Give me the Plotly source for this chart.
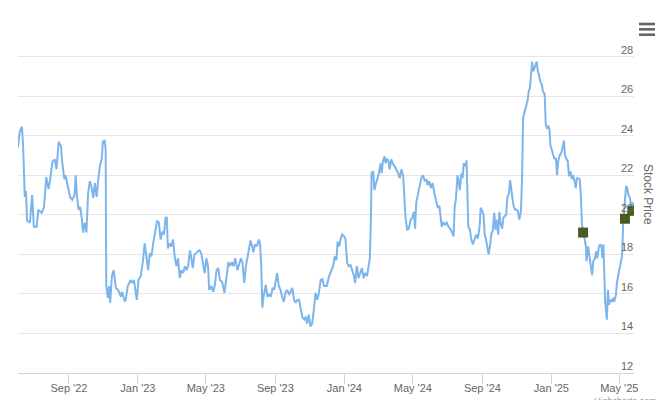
import plotly.graph_objects as go

# ---- data -------------------------------------------------------------
dates = [
    "2022-06-03","2022-06-06","2022-06-10","2022-06-12","2022-06-15","2022-06-17","2022-06-19","2022-06-24","2022-06-28","2022-07-01",
    "2022-07-06","2022-07-09","2022-07-15","2022-07-19","2022-07-23","2022-07-27","2022-07-30","2022-08-03","2022-08-07","2022-08-10",
    "2022-08-14","2022-08-18","2022-08-20","2022-08-24","2022-08-26","2022-08-30","2022-09-03","2022-09-07","2022-09-11","2022-09-13",
    "2022-09-15","2022-09-18","2022-09-21","2022-09-24","2022-09-26","2022-09-29","2022-10-02","2022-10-05","2022-10-08","2022-10-11",
    "2022-10-14","2022-10-17","2022-10-20","2022-10-23","2022-10-26","2022-10-29","2022-10-31","2022-11-03","2022-11-05","2022-11-06",
    "2022-11-09","2022-11-11","2022-11-13","2022-11-16","2022-11-19","2022-11-23","2022-11-27","2022-12-02","2022-12-04","2022-12-09",
    "2022-12-11","2022-12-14","2022-12-19","2022-12-22","2022-12-25","2022-12-27","2022-12-30","2023-01-02","2023-01-06","2023-01-10",
    "2023-01-13","2023-01-16","2023-01-19","2023-01-22","2023-01-25","2023-01-28","2023-01-31","2023-02-04","2023-02-07","2023-02-10",
    "2023-02-13","2023-02-16","2023-02-19","2023-02-21","2023-02-23","2023-02-26","2023-03-01","2023-03-04","2023-03-07","2023-03-10",
    "2023-03-13","2023-03-16","2023-03-19","2023-03-22","2023-03-25","2023-03-28","2023-03-31","2023-04-03","2023-04-05","2023-04-08",
    "2023-04-11","2023-04-14","2023-04-17","2023-04-20","2023-04-23","2023-04-26","2023-04-29","2023-05-02","2023-05-05","2023-05-07",
    "2023-05-11","2023-05-14","2023-05-17","2023-05-20","2023-05-23","2023-05-26","2023-05-30","2023-06-03","2023-06-07","2023-06-10",
    "2023-06-13","2023-06-16","2023-06-19","2023-06-22","2023-06-26","2023-06-29","2023-07-02","2023-07-05","2023-07-08","2023-07-11",
    "2023-07-13","2023-07-16","2023-07-19","2023-07-22","2023-07-24","2023-07-27","2023-07-30","2023-08-03","2023-08-05","2023-08-07",
    "2023-08-09","2023-08-11","2023-08-15","2023-08-18","2023-08-21","2023-08-24","2023-08-27","2023-08-30","2023-09-02","2023-09-04",
    "2023-09-07","2023-09-10","2023-09-13","2023-09-16","2023-09-19","2023-09-22","2023-09-25","2023-09-28","2023-10-01","2023-10-04",
    "2023-10-07","2023-10-10","2023-10-13","2023-10-16","2023-10-19","2023-10-22","2023-10-25","2023-10-27","2023-10-30","2023-11-02",
    "2023-11-05","2023-11-08","2023-11-11","2023-11-14","2023-11-17","2023-11-20","2023-11-23","2023-11-26","2023-12-01","2023-12-05",
    "2023-12-09","2023-12-12","2023-12-15","2023-12-18","2023-12-20","2023-12-23","2023-12-25","2023-12-28","2024-01-01","2024-01-03",
    "2024-01-06","2024-01-09","2024-01-12","2024-01-15","2024-01-18","2024-01-20","2024-01-23","2024-01-26","2024-01-29","2024-02-01",
    "2024-02-04","2024-02-07","2024-02-10","2024-02-13","2024-02-15","2024-02-17","2024-02-18","2024-02-21","2024-02-23","2024-02-25",
    "2024-02-28","2024-03-02","2024-03-05","2024-03-07","2024-03-09","2024-03-12","2024-03-14","2024-03-16","2024-03-19","2024-03-21",
    "2024-03-24","2024-03-27","2024-03-30","2024-04-02","2024-04-05","2024-04-08","2024-04-11","2024-04-14","2024-04-16","2024-04-18",
    "2024-04-21","2024-04-24","2024-04-27","2024-04-30","2024-05-03","2024-05-05","2024-05-07","2024-05-10","2024-05-13","2024-05-16",
    "2024-05-19","2024-05-22","2024-05-25","2024-05-27","2024-05-30","2024-06-02","2024-06-05","2024-06-08","2024-06-11","2024-06-14",
    "2024-06-17","2024-06-19","2024-06-21","2024-06-24","2024-06-27","2024-06-30","2024-07-03","2024-07-06","2024-07-09","2024-07-12",
    "2024-07-14","2024-07-16","2024-07-19","2024-07-21","2024-07-23","2024-07-26","2024-07-28","2024-07-30","2024-08-02","2024-08-04",
    "2024-08-05","2024-08-07","2024-08-10","2024-08-12","2024-08-15","2024-08-18","2024-08-21","2024-08-24","2024-08-27","2024-08-29",
    "2024-08-31","2024-09-03","2024-09-05","2024-09-07","2024-09-10","2024-09-12","2024-09-15","2024-09-17","2024-09-19","2024-09-22",
    "2024-09-24","2024-09-26","2024-09-29","2024-10-01","2024-10-03","2024-10-06","2024-10-08","2024-10-10","2024-10-13","2024-10-15",
    "2024-10-18","2024-10-20","2024-10-22","2024-10-25","2024-10-27","2024-10-29","2024-11-01","2024-11-03","2024-11-05","2024-11-08",
    "2024-11-10","2024-11-12","2024-11-15","2024-11-18","2024-11-20","2024-11-22","2024-11-24","2024-11-26","2024-11-28","2024-11-30",
    "2024-12-02","2024-12-04","2024-12-06","2024-12-08","2024-12-10","2024-12-12","2024-12-15","2024-12-17","2024-12-20","2024-12-22",
    "2024-12-24","2024-12-27","2024-12-29","2024-12-30","2025-01-02","2025-01-04","2025-01-06","2025-01-09","2025-01-11","2025-01-13",
    "2025-01-16","2025-01-18","2025-01-20","2025-01-23","2025-01-25","2025-01-27","2025-01-30","2025-02-01","2025-02-04","2025-02-06",
    "2025-02-08","2025-02-11","2025-02-13","2025-02-15","2025-02-18","2025-02-20","2025-02-22","2025-02-24","2025-02-26","2025-02-28",
    "2025-03-03","2025-03-04","2025-03-07","2025-03-09","2025-03-11","2025-03-14","2025-03-16","2025-03-19","2025-03-21","2025-03-23",
    "2025-03-26","2025-03-29","2025-03-31","2025-04-01","2025-04-03","2025-04-05","2025-04-06","2025-04-09","2025-04-11","2025-04-13",
    "2025-04-15","2025-04-18","2025-04-20","2025-04-22","2025-04-25","2025-04-27","2025-04-29","2025-05-02","2025-05-04","2025-05-06",
    "2025-05-08","2025-05-10","2025-05-13","2025-05-15","2025-05-17","2025-05-20","2025-05-22","2025-05-24","2025-05-26",
]

prices = [
    23.4, 24.2, 24.45, 23.5, 20.9, 21.2, 19.7, 19.6, 21.0, 19.4,
    19.4, 20.25, 20.1, 20.4, 21.9, 21.3, 21.8, 22.7, 22.8, 22.3,
    23.7, 23.45, 22.7, 21.8, 22.0, 21.4, 20.9, 20.75, 21.0, 22.0,
    21.0, 20.25, 20.4, 19.75, 19.1, 19.6, 19.1, 21.1, 21.7, 21.4,
    20.85, 21.6, 20.9, 21.8, 22.5, 22.8, 23.7, 23.75, 23.3, 16.4,
    15.8, 16.4, 15.55, 16.9, 17.2, 16.3, 16.2, 15.85, 16.1, 15.6,
    15.8, 16.4, 16.7, 16.55, 16.7, 16.3, 15.7, 16.7, 16.9, 17.7,
    18.55, 17.9, 17.2, 18.05, 17.9, 18.55, 19.15, 19.7, 19.6, 18.75,
    19.15, 19.0, 19.85, 19.85, 18.3, 18.55, 18.4, 18.75, 17.9, 17.4,
    17.8, 16.8, 17.2, 17.05, 17.4, 17.2, 17.45, 18.2, 17.9, 17.3,
    18.0, 18.05, 18.15, 18.2, 18.05, 17.55, 17.05, 17.8, 17.4, 16.2,
    16.4, 16.1, 16.45, 17.2, 17.3, 16.7, 16.6, 16.05, 17.05, 17.6,
    17.4, 17.6, 17.4, 17.8, 17.2, 17.45, 17.8, 17.55, 16.55, 17.4,
    17.7, 18.2, 18.7, 18.4, 18.1, 18.5, 18.4, 18.75, 18.5, 17.4,
    15.3, 15.85, 16.45, 15.85, 16.0, 15.85, 16.3, 16.2, 16.7, 17.05,
    16.4, 16.2, 15.85, 15.6, 16.1, 16.2, 15.95, 16.1, 16.3, 15.7,
    15.55, 15.7, 15.7, 15.2, 14.8, 14.7, 14.85, 14.5, 14.95, 14.35,
    14.5, 15.2, 16.05, 15.7, 16.05, 16.7, 16.75, 16.4, 16.4, 16.9,
    17.15, 17.4, 17.9, 17.7, 18.65, 18.4, 18.75, 19.0, 18.9, 18.75,
    17.55, 17.4, 17.45, 17.15, 16.9, 16.55, 17.4, 16.8, 17.05, 17.3,
    16.8, 17.05, 16.9, 17.45, 17.8, 19.9, 22.1, 22.2, 21.25, 21.5,
    21.75, 22.1, 22.6, 22.1, 22.7, 22.95, 22.6, 22.85, 22.7, 22.3,
    22.8, 22.55, 22.45, 22.3, 22.1, 21.85, 22.3, 21.95, 20.95, 19.9,
    19.25, 19.3, 19.75, 19.85, 20.15, 19.3, 20.6, 20.95, 21.45, 21.85,
    22.0, 21.7, 21.8, 21.5, 21.7, 21.35, 21.6, 21.1, 20.75, 20.35,
    20.45, 19.85, 19.4, 19.6, 19.5, 19.6, 19.4, 19.3, 19.15, 18.9,
    20.4, 20.75, 22.0, 21.75, 21.25, 22.1, 21.85, 22.6, 22.45, 22.75,
    21.25, 19.4, 19.25, 18.8, 18.5, 18.75, 19.0, 18.8, 19.4, 20.35,
    20.25, 20.0, 19.0, 18.8, 18.2, 18.0, 18.55, 19.05, 19.15, 20.1,
    19.25, 19.75, 19.0, 20.15, 19.6, 19.3, 19.85, 19.9, 20.0, 20.85,
    21.1, 21.75, 21.25, 20.65, 20.35, 20.25, 20.25, 20.15, 19.75, 20.15,
    21.75, 24.9, 25.25, 25.55, 25.8, 26.25, 26.4, 27.1, 27.75, 27.25,
    27.4, 27.65, 27.75, 27.25, 27.1, 26.75, 26.6, 26.25, 26.1, 24.55,
    24.4, 24.5, 24.2, 23.55, 23.2, 23.05, 22.85, 22.85, 22.0, 22.7,
    23.05, 23.1, 23.3, 23.75, 23.05, 22.85, 22.7, 21.95, 22.2, 21.8,
    22.0, 21.7, 21.35, 21.85, 21.85, 21.8, 21.0, 19.5, 19.15, 18.9,
    18.4, 17.65, 18.4, 17.95, 17.45, 16.95, 17.65, 17.8, 18.15, 17.8,
    18.4, 18.5, 18.3, 17.8, 18.5, 17.15, 15.6, 14.7, 16.2, 15.45,
    15.7, 15.6, 15.8, 15.6, 15.95, 16.6, 16.9, 17.3, 17.65, 17.95,
    19.65, 20.35, 21.45, 21.35, 21.0, 20.85, 20.35, 20.65, 20.4,
]

assert len(dates) == len(prices), (len(dates), len(prices))

flag_dates = ["2025-02-26", "2025-05-11", "2025-05-24"]
flag_prices = [19.1, 19.8, 20.2]

y_ticks = [12, 14, 16, 18, 20, 22, 24, 26, 28]
y_title = "Stock Price"
credit_text = "Highcharts.com"

# ---- figure -----------------------------------------------------------
FONT = "Liberation Sans, Arial, Helvetica, sans-serif"

fig = go.Figure()
fig.add_trace(go.Scatter(
    x=dates, y=prices, mode="lines",
    line=dict(color="#7cb5ec", width=2),
    hoverinfo="skip", showlegend=False,
))
fig.add_trace(go.Scatter(
    x=flag_dates, y=flag_prices, mode="markers",
    marker=dict(symbol="square", size=10, color="#4b5a20",
                line=dict(width=0)),
    hoverinfo="skip", showlegend=False,
))

annotations = []
for v in y_ticks:
    annotations.append(dict(
        xref="paper", yref="y", x=1, y=v, xanchor="right", yanchor="bottom",
        text=str(v), showarrow=False, borderpad=0,
        font=dict(family=FONT, size=11, color="#666666"),
    ))
annotations.append(dict(
    xref="paper", yref="paper", x=1.0227, y=0.5, xanchor="center", yanchor="middle",
    text=y_title, textangle=90, showarrow=False,
    font=dict(family=FONT, size=12, color="#666666"),
))
annotations.append(dict(
    xref="paper", yref="paper", x=1.039, y=-0.062, xanchor="right", yanchor="top",
    text=credit_text, showarrow=False, borderpad=0,
    font=dict(family=FONT, size=9, color="#999999"),
))

# export-menu (hamburger) icon
shapes = []
for yy in (0.9803, 0.9654, 0.9503):
    shapes.append(dict(type="line", xref="paper", yref="paper",
                       x0=1.0081, x1=1.0341, y0=yy, y1=yy,
                       line=dict(color="#666666", width=2.6)))

fig.update_layout(
    width=660, height=400,
    margin=dict(l=18, r=26, t=17, b=27, autoexpand=False),
    paper_bgcolor="white", plot_bgcolor="white",
    font=dict(family=FONT, size=11, color="#666666"),
    xaxis=dict(
        type="date",
        range=["2022-06-03", "2025-05-27"],
        tick0="2022-09-01", dtick="M4", tickformat="%b '%y",
        ticks="outside", ticklen=10, tickwidth=1, tickcolor="#ccd6eb",
        ticklabelstandoff=-5,
        showline=True, linecolor="#ccd6eb", linewidth=1,
        showgrid=False, zeroline=False, automargin=False,
        tickfont=dict(family=FONT, size=11, color="#666666"),
    ),
    yaxis=dict(
        range=[12, 30], tick0=12, dtick=2,
        showgrid=True, gridcolor="#e6e6e6", gridwidth=1,
        showticklabels=False, ticks="", zeroline=False, showline=False,
        automargin=False,
    ),
    annotations=annotations,
    shapes=shapes,
)

fig.write_html(
    "out.html",
    config={"displayModeBar": False},
    post_script="document.body.style.margin='0';document.body.style.overflow='hidden';",
)
